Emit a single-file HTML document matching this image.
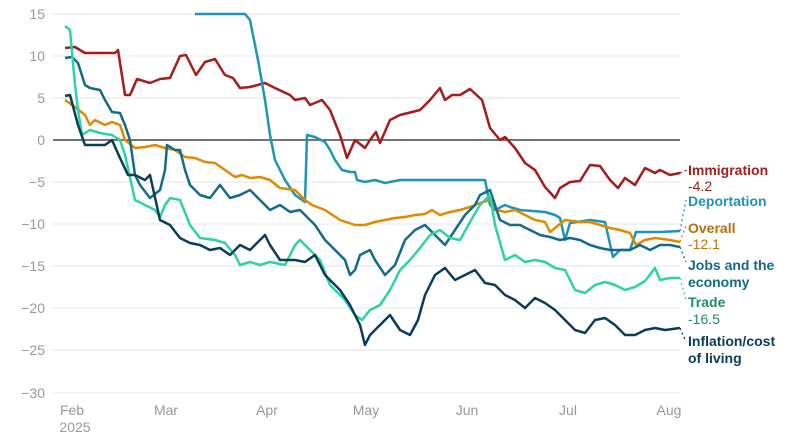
<!DOCTYPE html>
<html><head><meta charset="utf-8"><style>
body{margin:0;background:#fff}
svg{display:block;font-family:"Liberation Sans",sans-serif}
.t{fill:#999;font-size:14px}
.g{stroke:#e6e6e6;stroke-width:1}
.s{fill:none;stroke-width:2.5;stroke-linejoin:round}
.l{font-size:14px;font-weight:bold}
.n{font-size:14px}
.d{stroke-dasharray:2 3;stroke-width:1.3;fill:none}
</style></head><body>
<svg width="800" height="445" viewBox="0 0 800 445">
<g>
<line class="g" x1="53" x2="680" y1="14" y2="14"/><line class="g" x1="53" x2="680" y1="56" y2="56"/><line class="g" x1="53" x2="680" y1="98" y2="98"/>
<line class="g" x1="53" x2="680" y1="182" y2="182"/><line class="g" x1="53" x2="680" y1="224" y2="224"/><line class="g" x1="53" x2="680" y1="266" y2="266"/><line class="g" x1="53" x2="680" y1="308" y2="308"/><line class="g" x1="53" x2="680" y1="350" y2="350"/><line class="g" x1="53" x2="680" y1="393" y2="393"/>
<line x1="53" x2="680" y1="140" y2="140" stroke="#222" stroke-width="1.3"/>
</g>
<g class="t" text-anchor="end">
<text x="45" y="19">15</text><text x="45" y="61">10</text><text x="45" y="103">5</text><text x="45" y="145">0</text><text x="45" y="187">−5</text><text x="45" y="229">−10</text><text x="45" y="271">−15</text><text x="45" y="313">−20</text><text x="45" y="355">−25</text><text x="45" y="398">−30</text>
</g>
<g class="t" text-anchor="middle">
<text x="72" y="415">Feb</text><text x="75" y="432">2025</text><text x="166" y="415">Mar</text><text x="267" y="415">Apr</text><text x="366" y="415">May</text><text x="467" y="415">Jun</text><text x="568" y="415">Jul</text><text x="669" y="415">Aug</text>
</g>
<polyline class="s" stroke="#a51c1c" points="65,48 75,47 85,53 115,53 118,50 125,95 130,95 137,79 150,83 160,79 170,78 180,56 186,55 196,75 205,62 215,59 225,75 233,78 240,88 250,87 265,83 275,88 290,95 295,100 305,98 310,105 322,100 330,110 340,135 347,158 355,140 365,148 370,140 376,132 380,143 390,120 400,115 420,110 430,100 440,88 445,100 452,95 460,95 470,89 482,100 490,128 500,140 505,137 515,148 525,163 535,170 545,187 555,198 560,188 570,182 580,181 590,165 600,166 610,180 618,188 625,178 635,185 645,168 655,173 660,170 670,175 680,173"/>
<polyline class="s" stroke="#1f94b8" points="195,14 245,14 250,20 258,60 265,100 270,135 275,160 285,180 295,195 305,202 307,135 315,137 325,142 330,150 335,160 342,170 350,172 355,172 357,180 365,182 375,180 385,183 400,180 485,180 490,205 495,210 505,205 510,207 520,210 545,212 555,215 560,218 565,240 570,223 590,220 605,222 613,257 620,250 630,250 636,232 660,232 680,231"/>
<polyline class="s" stroke="#e08a00" points="65,100 75,107 85,115 90,125 95,120 105,125 112,122 120,125 125,140 135,148 145,147 155,145 165,148 175,150 185,157 195,158 205,162 215,163 225,170 235,177 242,175 250,178 260,177 270,180 280,188 295,190 305,200 312,205 325,210 340,220 355,225 365,225 375,222 385,220 395,218 405,217 415,215 425,214 432,210 440,215 450,212 460,210 470,207 480,203 490,200 497,210 505,212 515,210 525,215 535,220 545,222 550,232 555,228 565,220 580,222 590,222 600,225 610,228 620,230 630,233 636,245 645,240 655,238 670,240 680,242"/>
<polyline class="s" stroke="#136b8c" points="65,58 72,57 78,63 85,85 90,88 100,90 105,100 112,112 120,113 125,125 130,140 135,175 140,185 150,198 160,190 165,170 167,145 175,150 180,150 185,170 190,185 200,195 210,198 220,185 230,198 240,195 250,190 260,200 270,210 280,205 290,212 300,210 305,215 315,225 325,240 335,250 345,260 350,275 355,270 360,255 370,250 375,260 385,275 395,265 405,240 415,230 425,225 435,235 445,245 455,230 465,215 475,205 480,195 490,190 495,205 500,220 510,225 520,225 530,230 540,235 550,237 560,240 570,238 580,240 590,245 600,248 610,250 620,250 630,250 640,245 650,250 660,245 670,245 680,247"/>
<polyline class="s" stroke="#2ed3a3" points="65,26 70,30 75,85 78,110 82,135 90,130 100,133 112,135 120,140 125,155 135,200 145,205 155,210 160,217 165,205 170,198 180,200 190,225 200,238 215,240 225,243 235,255 240,265 250,262 260,265 270,262 285,265 295,245 300,240 310,250 320,260 330,285 345,300 355,315 362,320 370,310 380,305 390,290 400,270 410,260 420,248 430,235 440,230 450,238 460,240 470,222 480,205 490,195 495,225 505,260 515,255 525,262 535,260 545,262 555,268 565,270 570,280 575,290 585,293 595,285 605,282 615,285 625,290 635,287 645,281 655,268 660,280 670,278 680,278"/>
<polyline class="s" stroke="#0b3d5a" points="65,96 70,95 78,125 85,145 95,145 105,145 112,140 120,158 128,175 135,175 145,180 150,175 160,220 170,225 180,238 190,243 200,245 210,250 220,248 230,255 240,245 250,250 260,240 265,235 270,245 280,260 295,260 305,262 315,255 325,275 340,290 350,305 360,325 365,345 370,335 380,325 390,315 400,330 410,335 418,320 425,295 435,275 445,268 455,280 465,275 475,270 485,283 495,285 505,295 515,300 525,308 535,298 545,303 555,310 565,320 575,330 585,333 595,320 605,318 615,325 625,335 635,335 645,330 655,328 665,330 680,328"/>
<polyline class="d" stroke="#a51c1c" points="680,173 687,170"/>
<polyline class="d" stroke="#1f94b8" points="680,231 684,210 686,200"/>
<polyline class="d" stroke="#e08a00" points="680,242 686,225"/>
<polyline class="d" stroke="#136b8c" points="680,247 686,262"/>
<polyline class="d" stroke="#2ed3a3" points="680,278 686,300"/>
<polyline class="d" stroke="#0b3d5a" points="680,328 686,342"/>
<text class="l" x="688" y="175" fill="#a51c1c">Immigration</text>
<text class="n" x="688" y="191" fill="#a51c1c">-4.2</text>
<text class="l" x="688" y="206" fill="#1f94b8">Deportation</text>
<text class="l" x="688" y="233" fill="#b8700a">Overall</text>
<text class="n" x="688" y="249" fill="#b8700a">-12.1</text>
<text class="l" x="688" y="270" fill="#136b8c">Jobs and the</text>
<text class="l" x="688" y="287" fill="#136b8c">economy</text>
<text class="l" x="688" y="307" fill="#1e8f5f">Trade</text>
<text class="n" x="688" y="324" fill="#1e8f5f">-16.5</text>
<text class="l" x="688" y="346" fill="#0b3d5a">Inflation/cost</text>
<text class="l" x="688" y="363" fill="#0b3d5a">of living</text>
</svg>
</body></html>
